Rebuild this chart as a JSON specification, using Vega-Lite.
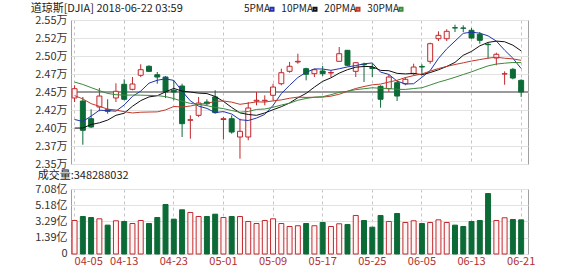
{
"$schema": "https://vega.github.io/schema/vega-lite/v6.json",
"padding": {"left": 30, "top": 2, "right": 0, "bottom": 0},
"background": "white",
"spacing": 25,
"bounds": "flush",
"config": {
  "font": "Noto Sans CJK SC",
  "view": {"stroke": "#a0a0a0", "strokeWidth": 1},
  "axis": {"labelFont": "Noto Sans CJK SC", "labelFontSize": 11, "labelColor": "#333333", "domain": false, "ticks": false, "gridColor": "#e2e2e2", "labelPadding": 4, "labelOverlap": false},
  "title": {"font": "Noto Sans CJK SC", "fontSize": 11, "fontWeight": "normal", "color": "#222222", "anchor": "start"},
  "legend": {"labelFont": "Noto Sans CJK SC", "labelFontSize": 10, "labelColor": "#222222"}
},
"datasets": {"k": [
{"d":"04-05","o":24417,"h":24593,"l":24361,"c":24546,"v":3.40,"5PMA":24118,"10PMA":23999,"20PMA":24450,"30PMA":24638},
{"d":"04-06","o":24375,"h":24431,"l":23768,"c":23968,"v":3.87,"5PMA":24091,"10PMA":24000,"20PMA":24404,"30PMA":24605},
{"d":"04-09","o":24129,"h":24260,"l":24000,"c":24014,"v":3.75,"5PMA":24165,"10PMA":24048,"20PMA":24338,"30PMA":24561},
{"d":"04-10","o":24292,"h":24556,"l":24232,"c":24444,"v":3.60,"5PMA":24247,"10PMA":24072,"20PMA":24301,"30PMA":24519},
{"d":"04-11","o":24254,"h":24399,"l":24199,"c":24232,"v":2.86,"5PMA":24241,"10PMA":24110,"20PMA":24262,"30PMA":24480},
{"d":"04-12","o":24417,"h":24621,"l":24361,"c":24510,"v":3.37,"5PMA":24234,"10PMA":24176,"20PMA":24250,"30PMA":24463},
{"d":"04-13","o":24607,"h":24676,"l":24385,"c":24399,"v":3.29,"5PMA":24320,"10PMA":24205,"20PMA":24226,"30PMA":24456},
{"d":"04-16","o":24537,"h":24708,"l":24524,"c":24611,"v":3.05,"5PMA":24439,"10PMA":24302,"20PMA":24209,"30PMA":24458},
{"d":"04-17","o":24732,"h":24885,"l":24708,"c":24810,"v":3.40,"5PMA":24512,"10PMA":24380,"20PMA":24219,"30PMA":24456},
{"d":"04-18","o":24857,"h":24871,"l":24778,"c":24787,"v":3.05,"5PMA":24623,"10PMA":24432,"20PMA":24222,"30PMA":24453},
{"d":"04-19","o":24740,"h":24778,"l":24615,"c":24708,"v":3.75,"5PMA":24663,"10PMA":24448,"20PMA":24224,"30PMA":24450},
{"d":"04-20","o":24708,"h":24722,"l":24417,"c":24500,"v":5.27,"5PMA":24683,"10PMA":24502,"20PMA":24251,"30PMA":24436},
{"d":"04-23","o":24524,"h":24662,"l":24385,"c":24500,"v":3.56,"5PMA":24661,"10PMA":24550,"20PMA":24299,"30PMA":24409},
{"d":"04-24","o":24583,"h":24615,"l":23875,"c":24060,"v":4.65,"5PMA":24511,"10PMA":24512,"20PMA":24292,"30PMA":24371},
{"d":"04-25","o":24107,"h":24176,"l":23851,"c":24115,"v":4.34,"5PMA":24377,"10PMA":24500,"20PMA":24305,"30PMA":24342},
{"d":"04-26","o":24176,"h":24431,"l":24153,"c":24347,"v":3.87,"5PMA":24304,"10PMA":24484,"20PMA":24330,"30PMA":24328},
{"d":"04-27","o":24361,"h":24399,"l":24306,"c":24337,"v":3.87,"5PMA":24272,"10PMA":24478,"20PMA":24341,"30PMA":24310},
{"d":"04-30","o":24431,"h":24524,"l":24199,"c":24213,"v":4.14,"5PMA":24214,"10PMA":24438,"20PMA":24370,"30PMA":24286},
{"d":"05-01","o":24118,"h":24153,"l":23840,"c":24129,"v":3.75,"5PMA":24228,"10PMA":24370,"20PMA":24375,"30PMA":24269},
{"d":"05-02","o":24129,"h":24176,"l":23921,"c":23944,"v":3.87,"5PMA":24194,"10PMA":24285,"20PMA":24359,"30PMA":24243},
{"d":"05-03","o":23875,"h":24129,"l":23574,"c":23954,"v":3.87,"5PMA":24115,"10PMA":24210,"20PMA":24329,"30PMA":24219},
{"d":"05-04","o":23875,"h":24361,"l":23829,"c":24278,"v":3.29,"5PMA":24104,"10PMA":24188,"20PMA":24345,"30PMA":24230},
{"d":"05-07","o":24375,"h":24500,"l":24315,"c":24385,"v":3.05,"5PMA":24138,"10PMA":24176,"20PMA":24363,"30PMA":24258},
{"d":"05-08","o":24378,"h":24454,"l":24315,"c":24385,"v":3.40,"5PMA":24189,"10PMA":24209,"20PMA":24360,"30PMA":24264},
{"d":"05-09","o":24454,"h":24615,"l":24385,"c":24569,"v":3.60,"5PMA":24314,"10PMA":24254,"20PMA":24377,"30PMA":24288},
{"d":"05-10","o":24615,"h":24824,"l":24593,"c":24768,"v":3.05,"5PMA":24477,"10PMA":24296,"20PMA":24390,"30PMA":24319},
{"d":"05-11","o":24787,"h":24917,"l":24768,"c":24857,"v":2.70,"5PMA":24593,"10PMA":24348,"20PMA":24413,"30PMA":24344},
{"d":"05-14","o":24917,"h":25032,"l":24893,"c":24926,"v":2.79,"5PMA":24701,"10PMA":24420,"20PMA":24429,"30PMA":24386},
{"d":"05-15","o":24824,"h":24837,"l":24662,"c":24746,"v":3.05,"5PMA":24773,"10PMA":24481,"20PMA":24425,"30PMA":24410},
{"d":"05-16","o":24754,"h":24824,"l":24708,"c":24810,"v":2.79,"5PMA":24821,"10PMA":24568,"20PMA":24427,"30PMA":24428},
{"d":"05-17","o":24792,"h":24861,"l":24722,"c":24754,"v":3.17,"5PMA":24819,"10PMA":24648,"20PMA":24429,"30PMA":24435},
{"d":"05-18","o":24764,"h":24801,"l":24708,"c":24771,"v":2.70,"5PMA":24801,"10PMA":24697,"20PMA":24442,"30PMA":24462},
{"d":"05-21","o":24926,"h":25125,"l":24926,"c":25032,"v":3.02,"5PMA":24823,"10PMA":24762,"20PMA":24469,"30PMA":24496},
{"d":"05-22","o":25079,"h":25083,"l":24857,"c":24871,"v":2.94,"5PMA":24848,"10PMA":24810,"20PMA":24510,"30PMA":24510},
{"d":"05-23","o":24787,"h":24917,"l":24708,"c":24907,"v":3.99,"5PMA":24867,"10PMA":24844,"20PMA":24549,"30PMA":24533},
{"d":"05-24","o":24885,"h":24907,"l":24639,"c":24879,"v":3.40,"5PMA":24892,"10PMA":24855,"20PMA":24576,"30PMA":24545},
{"d":"05-25","o":24840,"h":24889,"l":24708,"c":24826,"v":2.62,"5PMA":24903,"10PMA":24852,"20PMA":24600,"30PMA":24559},
{"d":"05-29","o":24579,"h":24593,"l":24282,"c":24399,"v":3.99,"5PMA":24776,"10PMA":24800,"20PMA":24610,"30PMA":24552},
{"d":"05-30","o":24546,"h":24746,"l":24500,"c":24708,"v":3.29,"5PMA":24744,"10PMA":24796,"20PMA":24638,"30PMA":24549},
{"d":"05-31","o":24629,"h":24662,"l":24375,"c":24444,"v":4.22,"5PMA":24651,"10PMA":24759,"20PMA":24663,"30PMA":24537},
{"d":"06-01","o":24615,"h":24708,"l":24593,"c":24676,"v":3.17,"5PMA":24611,"10PMA":24751,"20PMA":24700,"30PMA":24536},
{"d":"06-04","o":24754,"h":24893,"l":24732,"c":24847,"v":3.37,"5PMA":24615,"10PMA":24759,"20PMA":24728,"30PMA":24548},
{"d":"06-05","o":24855,"h":24885,"l":24732,"c":24847,"v":3.05,"5PMA":24704,"10PMA":24740,"20PMA":24751,"30PMA":24559},
{"d":"06-06","o":24926,"h":25185,"l":24893,"c":25171,"v":3.17,"5PMA":24797,"10PMA":24770,"20PMA":24790,"30PMA":24597},
{"d":"06-07","o":25240,"h":25343,"l":25208,"c":25287,"v":3.48,"5PMA":24966,"10PMA":24808,"20PMA":24826,"30PMA":24636},
{"d":"06-08","o":25240,"h":25371,"l":25208,"c":25343,"v":3.17,"5PMA":25099,"10PMA":24855,"20PMA":24855,"30PMA":24669},
{"d":"06-11","o":25393,"h":25435,"l":25333,"c":25389,"v":2.86,"5PMA":25207,"10PMA":24911,"20PMA":24882,"30PMA":24704},
{"d":"06-12","o":25389,"h":25426,"l":25333,"c":25385,"v":2.70,"5PMA":25315,"10PMA":25010,"20PMA":24905,"30PMA":24743},
{"d":"06-13","o":25357,"h":25389,"l":25240,"c":25250,"v":3.29,"5PMA":25331,"10PMA":25064,"20PMA":24930,"30PMA":24780},
{"d":"06-14","o":25301,"h":25333,"l":25171,"c":25218,"v":3.40,"5PMA":25317,"10PMA":25141,"20PMA":24950,"30PMA":24823},
{"d":"06-15","o":25162,"h":25185,"l":24963,"c":25157,"v":6.55,"5PMA":25280,"10PMA":25189,"20PMA":24970,"30PMA":24863},
{"d":"06-18","o":24972,"h":25046,"l":24871,"c":25024,"v":3.40,"5PMA":25207,"10PMA":25207,"20PMA":24983,"30PMA":24888},
{"d":"06-19","o":24750,"h":24787,"l":24601,"c":24754,"v":3.72,"5PMA":25081,"10PMA":25198,"20PMA":24969,"30PMA":24900},
{"d":"06-20","o":24815,"h":24833,"l":24676,"c":24694,"v":3.52,"5PMA":24969,"10PMA":25150,"20PMA":24960,"30PMA":24910},
{"d":"06-21","o":24662,"h":24676,"l":24431,"c":24500,"v":3.48,"5PMA":24826,"10PMA":25071,"20PMA":24940,"30PMA":24908}
]},
"vconcat": [
{
  "width": 457, "height": 144,
  "data": {"name": "k"},
  "title": {"text": "道琼斯[DJIA] 2018-06-22 03:59", "offset": 0, "dx": -4},
  "layer": [
    {
      "mark": {"type": "rule", "color": "#9a9a9a", "strokeWidth": 1},
      "encoding": {"y": {"datum": 24500, "type": "quantitative",
              "scale": {"domain": [23500, 25500], "nice": false, "zero": false},
              "axis": {"title": null, "grid": true, "gridColor": "#e2e2e2", "labelOverlap": false,
                       "values": [23500, 23750, 24000, 24250, 24500, 24750, 25000, 25250, 25500],
                       "labelExpr": "format(floor(datum.value/100)/100, '.2f') + '万'"}}}
    },
    {
      "mark": {"type": "rule", "strokeWidth": 1},
      "encoding": {
        "x": {"field": "d", "type": "ordinal",
              "scale": {"type": "band", "paddingInner": 0.4, "paddingOuter": 0.33, "align": 0.2},
              "axis": {"title": null, "labels": false, "grid": true, "gridDash": [3, 3], "gridColor": "#c4c4c4", "bandPosition": 0.5,
                       "values": ["04-05","04-13","04-23","05-01","05-09","05-17","05-25","06-05","06-13","06-21"]}},
        "y": {"field": "l", "type": "quantitative",
              "axis": {"title": null, "grid": true, "gridColor": "#e2e2e2", "labelOverlap": false,
                       "values": [23500, 23750, 24000, 24250, 24500, 24750, 25000, 25250, 25500],
                       "labelExpr": "format(floor(datum.value/100)/100, '.2f') + '万'"}},
        "y2": {"field": "h"},
        "color": {"condition": {"test": "datum.c >= datum.o", "value": "#c0282d"}, "value": "#0c6a36"}
      }
    },
    {
      "mark": {"type": "bar", "strokeWidth": 1},
      "encoding": {
        "x": {"field": "d", "type": "ordinal"},
        "y": {"field": "o", "type": "quantitative",
              "axis": {"title": null, "grid": true, "gridColor": "#e2e2e2", "labelOverlap": false,
                       "values": [23500, 23750, 24000, 24250, 24500, 24750, 25000, 25250, 25500],
                       "labelExpr": "format(floor(datum.value/100)/100, '.2f') + '万'"}},
        "y2": {"field": "c"},
        "fill": {"condition": {"test": "datum.c >= datum.o", "value": "#fff5f5"}, "value": "#0c6a36"},
        "stroke": {"condition": {"test": "datum.c >= datum.o", "value": "#c0282d"}, "value": "#0c6a36"}
      }
    },
    {
      "transform": [{"fold": ["5PMA", "10PMA", "20PMA", "30PMA"], "as": ["ma", "val"]}],
      "mark": {"type": "line", "strokeWidth": 1},
      "encoding": {
        "x": {"field": "d", "type": "ordinal"},
        "y": {"field": "val", "type": "quantitative",
              "axis": {"title": null, "grid": true, "gridColor": "#e2e2e2", "labelOverlap": false,
                       "values": [23500, 23750, 24000, 24250, 24500, 24750, 25000, 25250, 25500],
                       "labelExpr": "format(floor(datum.value/100)/100, '.2f') + '万'"}},
        "color": {"field": "ma", "type": "nominal",
                  "scale": {"domain": ["5PMA", "10PMA", "20PMA", "30PMA"], "range": ["#2233aa", "#111111", "#c0392b", "#3a8a3a"]},
                  "legend": {"orient": "none", "legendX": 196, "legendY": -16, "direction": "horizontal", "title": null,
                             "symbolType": "square", "symbolSize": 9, "symbolStrokeWidth": 2,
                             "labelAlign": "right", "labelOffset": -7, "columnPadding": 3}}
      }
    }
  ]
},
{
  "width": 457, "height": 65,
  "data": {"name": "k"},
  "title": {"text": "成交量:348288032", "offset": 2, "dx": 3},
  "mark": {"type": "bar", "strokeWidth": 1},
  "encoding": {
    "x": {"field": "d", "type": "ordinal",
          "scale": {"type": "band", "paddingInner": 0.4, "paddingOuter": 0.33, "align": 0.2},
          "axis": {"title": null, "labelAngle": 0, "labelColor": "#b03030", "labelFlush": 5, "labelPadding": 1, "grid": true, "gridDash": [3, 3], "gridColor": "#c4c4c4", "bandPosition": 0.5,
                   "values": ["04-05","04-13","04-23","05-01","05-09","05-17","05-25","06-05","06-13","06-21"]}},
    "y": {"field": "v", "type": "quantitative",
          "scale": {"domain": [-0.51, 7.08], "nice": false, "zero": false},
          "axis": {"title": null, "grid": true, "gridColor": "#e2e2e2", "labelOverlap": false,
                   "values": [-0.5, 1.39, 3.29, 5.18, 7.08],
                   "labelExpr": "datum.value > 1 ? format(datum.value, '.2f') + '亿' : '0'"}},
    "y2": {"datum": -0.51},
    "fill": {"condition": {"test": "datum.c >= datum.o", "value": "#fff5f5"}, "value": "#0c6a36"},
    "stroke": {"condition": {"test": "datum.c >= datum.o", "value": "#c0282d"}, "value": "#0c6a36"}
  }
}
]
}
